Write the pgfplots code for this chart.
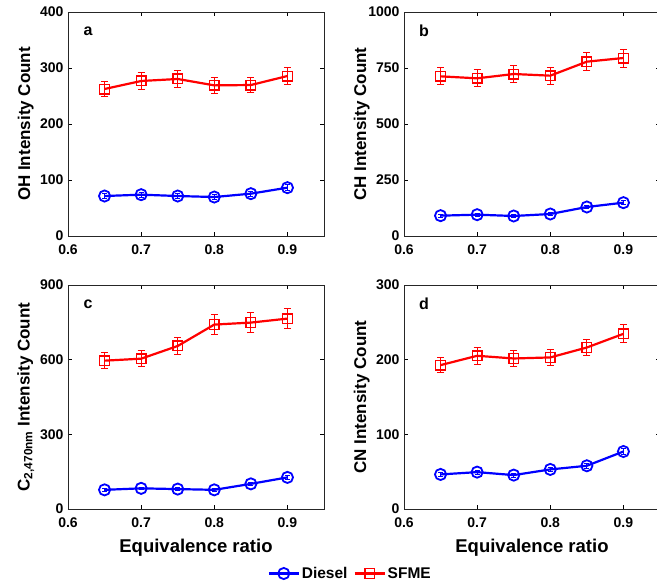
\documentclass[border=0pt]{standalone}
\usepackage{pgfplots}
\pgfplotsset{compat=1.18}
\usepackage{fontspec}
\setmainfont{Liberation Sans}
\tikzset{lett/.style={font=\fontsize{16}{18}\selectfont\bfseries, anchor=center}}
\begin{document}
\begin{tikzpicture}
\useasboundingbox (0pt,0pt) rectangle (657pt,-587pt);
\pgfplotsset{
  panel/.style={
    width=256pt, height=224pt, scale only axis,
    anchor=north west,
    xmin=0.6, xmax=0.95,
    xtick={0.6,0.7,0.8,0.9},
    xticklabels={0.6,0.7,0.8,0.9},
    tick align=inside, tick pos=both,
    major tick length=4pt,
    axis line style={line width=0.9pt, black!85},
    tick style={line width=0.9pt, black},
    ticklabel style={font=\fontsize{14}{16}\selectfont\bfseries},
    xticklabel style={yshift=-5pt},
    /pgf/number format/assume math mode=true,
    ylabel style={font=\fontsize{17}{19}\selectfont\bfseries, at={(axis description cs:-0.165,0.5)}, anchor=center},
    xlabel style={font=\fontsize{18.5}{20}\selectfont\bfseries, at={(axis description cs:0.5,-0.175)}, anchor=center},
    yticklabel style={xshift=-1pt},
    clip=false,
  },
  dies/.style={blue, line width=2.2pt, mark=o, mark size=5.6pt,
    mark options={line width=1.8pt, solid},
    error bars/.cd, y dir=both, y explicit,
    error bar style={blue, line width=0.8pt},
    error mark options={blue, line width=0.8pt, mark size=2.5pt, rotate=90}},
  sfme/.style={red, line width=2.2pt, mark=square, mark size=4.8pt,
    mark options={line width=1.4pt, solid},
    error bars/.cd, y dir=both, y explicit,
    error bar style={red, line width=0.9pt},
    error mark options={red, line width=0.9pt, mark size=3.5pt, rotate=90}},
}
% panel a
\begin{axis}[panel, at={(68pt,-12pt)}, ymin=0, ymax=400, ytick={0,100,200,300,400},
  ylabel={OH Intensity Count}]
\addplot+[dies] coordinates {(0.65,71.4) +- (0,4) (0.7,73.8) +- (0,4) (0.75,71.4) +- (0,4) (0.8,69.6) +- (0,4) (0.85,75.6) +- (0,4) (0.9,86.3) +- (0,5)};
\addplot+[sfme] coordinates {(0.65,262.5) +- (0,14) (0.7,276.8) +- (0,15) (0.75,280.4) +- (0,15) (0.8,269) +- (0,14) (0.85,269.6) +- (0,14) (0.9,285.7) +- (0,15)};
\node[lett] at (axis description cs:0.078,0.915) {a};
\end{axis}
% panel b
\begin{axis}[panel, at={(404pt,-12pt)}, ymin=0, ymax=1000, ytick={0,250,500,750,1000},
  yticklabels={0,250,500,750,1000},
  ylabel={CH Intensity Count}]
\addplot+[dies] coordinates {(0.65,90.8) +- (0,6) (0.7,95.2) +- (0,6) (0.75,89.3) +- (0,6) (0.8,98.2) +- (0,6) (0.85,129.5) +- (0,7) (0.9,148.8) +- (0,8)};
\addplot+[sfme] coordinates {(0.65,712.8) +- (0,38) (0.7,703.9) +- (0,38) (0.75,723.2) +- (0,38) (0.8,715.8) +- (0,38) (0.85,778.3) +- (0,40) (0.9,794.6) +- (0,40)};
\node[lett] at (axis description cs:0.078,0.915) {b};
\end{axis}
% panel c
\begin{axis}[panel, at={(68pt,-285pt)}, ymin=0, ymax=900, ytick={0,300,600,900},
  ylabel={C\textsubscript{2,470nm} Intensity Count}, xlabel={Equivalence ratio}]
\addplot+[dies] coordinates {(0.65,77) +- (0,5) (0.7,83) +- (0,5) (0.75,80) +- (0,5) (0.8,77) +- (0,5) (0.85,101) +- (0,6) (0.9,127) +- (0,7)};
\addplot+[sfme] coordinates {(0.65,596) +- (0,32) (0.7,604) +- (0,32) (0.75,655) +- (0,35) (0.8,741) +- (0,39) (0.85,749) +- (0,40) (0.9,765) +- (0,40)};
\node[lett] at (axis description cs:0.078,0.915) {c};
\end{axis}
% panel d
\begin{axis}[panel, at={(404pt,-285pt)}, ymin=0, ymax=300, ytick={0,100,200,300},
  ylabel={CN Intensity Count}, xlabel={Equivalence ratio},
  legend columns=2,
  legend style={at={(axis description cs:-0.21,-0.288)}, anchor=center, draw=none, fill=none,
    font=\fontsize{15.5}{17}\selectfont\bfseries,
    /tikz/every even column/.append style={column sep=4pt}},
  legend image code/.code={\draw[#1] (0pt,0pt) -- (30pt,0pt); \draw[#1] plot coordinates {(15pt,0pt)};},
  ]
\addplot+[dies] coordinates {(0.65,46.3) +- (0,2.5) (0.7,49.4) +- (0,2.5) (0.75,45.4) +- (0,2.5) (0.8,53) +- (0,2.5) (0.85,57.9) +- (0,3) (0.9,77) +- (0,3.5)};
\addlegendentry{Diesel}
\addplot+[sfme] coordinates {(0.65,192.7) +- (0,10) (0.7,205.2) +- (0,11) (0.75,201.6) +- (0,11) (0.8,203) +- (0,11) (0.85,216.3) +- (0,11) (0.9,234.6) +- (0,12)};
\addlegendentry{SFME}
\node[lett] at (axis description cs:0.078,0.915) {d};
\end{axis}
\end{tikzpicture}
\end{document}
